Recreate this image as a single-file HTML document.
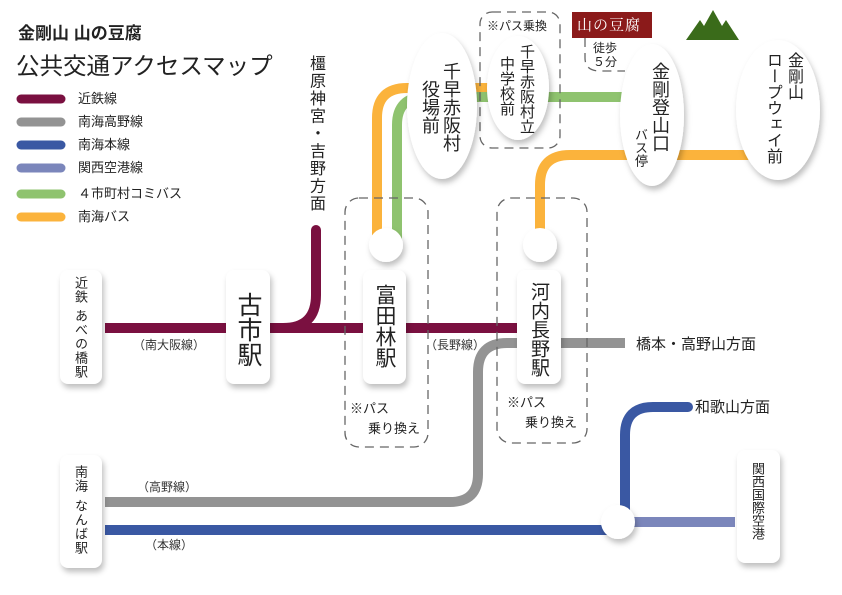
<!DOCTYPE html>
<html><head><meta charset="utf-8"><style>
body{margin:0;width:842px;height:595px;background:#fff;position:relative;overflow:hidden;font-family:"Liberation Sans","Noto Sans CJK JP",sans-serif;color:#222}
.a{position:absolute;white-space:nowrap}
.v{position:absolute;writing-mode:vertical-rl;text-orientation:upright;white-space:nowrap;line-height:1}
.box{position:absolute;background:#fff;border-radius:8px;box-shadow:2px 4px 6px rgba(0,0,0,.25)}
</style></head><body>
<svg width="842" height="595" style="position:absolute;left:0;top:0">
<defs><filter id="sh" x="-30%" y="-30%" width="160%" height="160%"><feDropShadow dx="2" dy="4" stdDeviation="3" flood-opacity=".25"/></filter></defs>
<g stroke-linecap="round" stroke-width="9" fill="none">
<line x1="21" y1="99" x2="61" y2="99" stroke="#7a1040"/>
<line x1="21" y1="122" x2="61" y2="122" stroke="#939393"/>
<line x1="21" y1="145" x2="61" y2="145" stroke="#3a58a3"/>
<line x1="21" y1="168" x2="61" y2="168" stroke="#7b86bb"/>
<line x1="21" y1="194" x2="61" y2="194" stroke="#8fc36f"/>
<line x1="21" y1="217" x2="61" y2="217" stroke="#fbb33c"/>
</g>
<g fill="none" stroke-width="10">
<path d="M105 328 H520" stroke="#7a1040"/>
<path d="M316 230 V295 Q316 328 283 328" stroke="#7a1040" stroke-linecap="round"/>
<path d="M105 502 H450 Q478 502 478 474 V372 Q478 343 507 343 H625" stroke="#939393"/>
<path d="M105 530 H618" stroke="#3a58a3"/>
<path d="M618 522 H735" stroke="#7b86bb"/>
<path d="M625 520 V435 Q625 407 653 407 H688" stroke="#3a58a3" stroke-linecap="round"/>
<path d="M377 240 V118 Q377 88 407 88 H490" stroke="#fbb33c"/>
<path d="M397 240 V125 Q397 97 425 97 H625" stroke="#8fc36f"/>
<path d="M540 240 V185 Q540 155 570 155 H760" stroke="#fbb33c"/>
</g>
<g fill="none" stroke="#666" stroke-width="1.3" stroke-dasharray="9,6">
<rect x="345" y="198" width="83" height="249" rx="14"/>
<rect x="497" y="198" width="90" height="245" rx="14"/>
<rect x="480" y="12" width="80" height="136" rx="12"/>
<path d="M585 38 V58 Q585 71 600 71 H625"/>
</g>
<g fill="#fff" filter="url(#sh)">
<circle cx="386" cy="245" r="17"/>
<circle cx="540" cy="245" r="17"/>
<circle cx="618" cy="522" r="17"/>
<ellipse cx="442" cy="106" rx="35" ry="73"/>
<ellipse cx="518" cy="88" rx="31" ry="52"/>
<ellipse cx="652" cy="115" rx="32" ry="71"/>
<ellipse cx="778" cy="110" rx="42" ry="70"/>
</g>
<rect x="572" y="12" width="80" height="26" fill="#8b1a1a"/>
<polygon points="686,40 700,20 704,26 713,10 722,26 726,20 739,40" fill="#3a6b1a"/>
</svg>
<div class="a" style="left:18px;top:19px;font-size:17px;font-weight:bold">金剛山 山の豆腐</div>
<div class="a" style="left:16px;top:47px;font-size:23.5px">公共交通アクセスマップ</div>
<div class="a" style="left:78px;top:91px;font-size:13px;line-height:16px">近鉄線</div>
<div class="a" style="left:78px;top:114px;font-size:13px;line-height:16px">南海高野線</div>
<div class="a" style="left:78px;top:137px;font-size:13px;line-height:16px">南海本線</div>
<div class="a" style="left:78px;top:160px;font-size:13px;line-height:16px">関西空港線</div>
<div class="a" style="left:78px;top:186px;font-size:13px;line-height:16px">４市町村コミバス</div>
<div class="a" style="left:78px;top:209px;font-size:13px;line-height:16px">南海バス</div>
<div class="v" style="left:307px;top:55px;font-size:16px;letter-spacing:1.5px">橿原神宮・吉野方面</div>
<div class="box" style="left:60px;top:270px;width:42px;height:114px"><div class="v" style="left:14px;top:6px;font-size:13px;letter-spacing:1px">近鉄<span style="margin-top:5px">あべの橋駅</span></div></div>
<div class="box" style="left:226px;top:270px;width:44px;height:114px"><div class="v" style="left:9px;top:22px;font-size:25px">古市駅</div></div>
<div class="box" style="left:363px;top:270px;width:43px;height:114px"><div class="v" style="left:11px;top:14px;font-size:21px">富田林駅</div></div>
<div class="box" style="left:517px;top:270px;width:44px;height:114px"><div class="v" style="left:12px;top:12px;font-size:19px">河内長野駅</div></div>
<div class="box" style="left:60px;top:455px;width:42px;height:113px"><div class="v" style="left:14px;top:10px;font-size:13px;letter-spacing:1px">南海<span style="margin-top:6px">なんば駅</span></div></div>
<div class="box" style="left:737px;top:450px;width:43px;height:113px"><div class="v" style="left:14px;top:12px;font-size:13px">関西国際空港</div></div>
<div class="v" style="left:442px;top:62px;font-size:18px">千早赤阪村</div>
<div class="v" style="left:421px;top:80px;font-size:18px">役場前</div>
<div class="v" style="left:519px;top:44px;font-size:15px">千早赤阪村立</div>
<div class="v" style="left:499px;top:56px;font-size:15px">中学校前</div>
<div class="v" style="left:651px;top:62px;font-size:18px">金剛登山口</div>
<div class="v" style="left:634px;top:128px;font-size:13px">バス停</div>
<div class="v" style="left:785px;top:52px;font-size:16px">金剛山</div>
<div class="v" style="left:764px;top:52px;font-size:16px">ロープウェイ前</div>
<div class="a" style="left:487px;top:17px;font-size:12px">※パス乗換</div>
<div class="a" style="left:577px;top:14px;font-size:15px;color:#fff;font-family:'Liberation Serif','Noto Serif CJK SC',serif;letter-spacing:1px">山の豆腐</div>
<div class="a" style="left:593px;top:41px;font-size:12px;line-height:14px">徒歩<br>５分</div>
<div class="a" style="left:133px;top:336px;font-size:12px;color:#333">（南大阪線）</div>
<div class="a" style="left:425px;top:336px;font-size:12px;color:#333">（長野線）</div>
<div class="a" style="left:137px;top:478px;font-size:12px;color:#333">（高野線）</div>
<div class="a" style="left:145px;top:536px;font-size:12px;color:#333">（本線）</div>
<div class="a" style="left:350px;top:398px;font-size:13px">※パス</div>
<div class="a" style="left:368px;top:418px;font-size:13px">乗り換え</div>
<div class="a" style="left:507px;top:392px;font-size:13px">※パス</div>
<div class="a" style="left:525px;top:412px;font-size:13px">乗り換え</div>
<div class="a" style="left:636px;top:333px;font-size:15px">橋本・高野山方面</div>
<div class="a" style="left:695px;top:396px;font-size:15px">和歌山方面</div>
</body></html>
